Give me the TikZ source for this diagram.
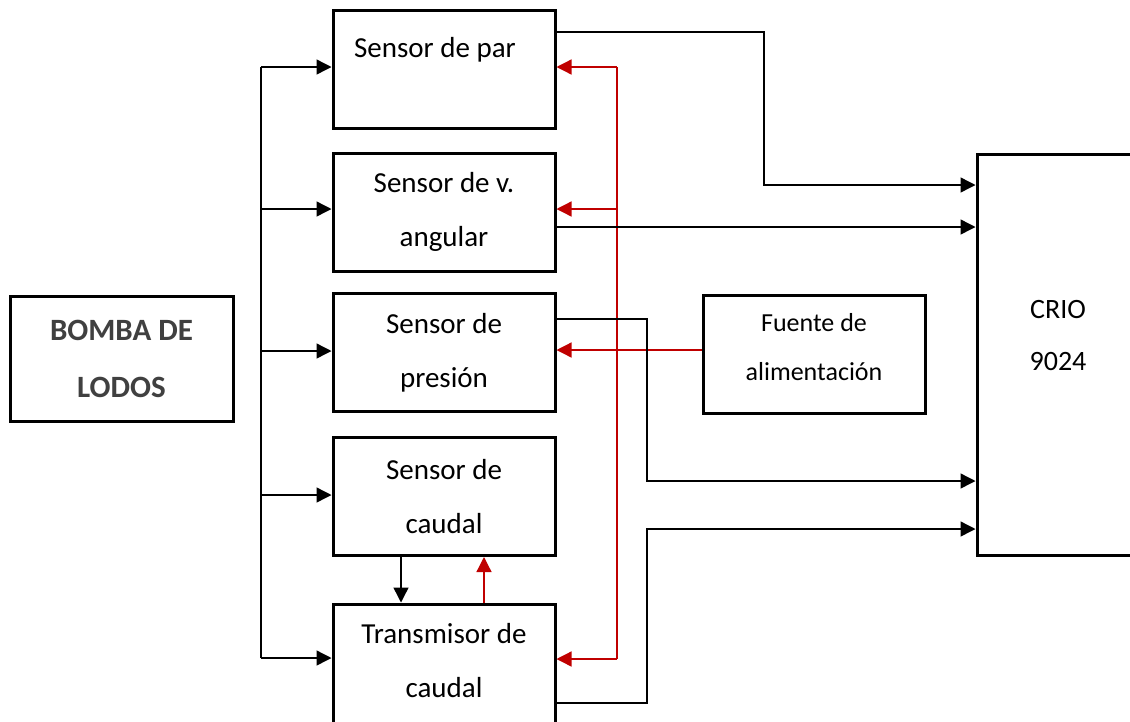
\documentclass[tikz,border=0pt]{standalone}
\usepackage{fontspec}
\setmainfont{Carlito}
\usepackage{tikz}
\usetikzlibrary{arrows.meta}
\definecolor{rojo}{HTML}{C00000}
\definecolor{gris}{HTML}{404040}

\begin{document}
\begin{tikzpicture}[x=1pt,y=-1pt,
		box/.style={draw,line width=3pt,minimum width=#1,minimum height=118pt,inner sep=0pt,align=center,font=\fontsize{29}{54}\selectfont},
		box/.default=222pt,
		txt/.style={inner sep=0pt,align=center,font=\fontsize{29}{54}\selectfont},
		arr/.style={line width=1.4pt,-{Triangle[length=15pt,width=15pt]}},
		rarr/.style={arr,draw=rojo,line width=1.3pt}]
		
		\useasboundingbox (0,0) rectangle (1130,721);
		\clip (0,0) rectangle (1130,721);
		
		%bloques
		\node[box=223pt,minimum height=125pt,text=gris,font=\fontsize{31}{57}\selectfont\bfseries] (bomba) at (121.5,358.5) {BOMBA DE\\LODOS};
		\node[box] (par) at (444,69) {};
		\node[txt] (parTxt) at (435,50) {Sensor de par};
		\node[box] (vel) at (444,212) {Sensor de v.\\angular};
		\node[box] (pres) at (444,352.5) {Sensor de\\presión};
		\node[box] (caud) at (444,496.5) {Sensor de\\caudal};
		\node[box,minimum height=124pt] (trans) at (444,666) {};
		\node[txt] (transTxt) at (444,661) {Transmisor de\\caudal};
		\node[box] (fuente) at (814,354) {};
		\node[txt,font=\fontsize{26}{49}\selectfont] (fuenteTxt) at (814,347.5) {Fuente de\\alimentación};
		\node[box=226pt,minimum height=401pt] (crio) at (1090,354.5) {};
		\node[txt,font=\fontsize{28}{52}\selectfont] (crioTxt) at (1058,336) {CRIO\\9024};
		
		%alimentacion de la bomba
		\draw[line width=1.4pt] (261,67) -- (261,658);
		\foreach \n/\y in {par/67,vel/209,pres/351,caud/495,trans/658}
		{
			\draw[arr] (261,\y) -- (\n.west |- 0,\y);
		}
		
		%alimentacion de los sensores
		\draw[draw=rojo,line width=1.3pt] (617,67) -- (617,659);
		\foreach \n/\y in {par/67,vel/209,trans/659}
		{
			\draw[rarr] (617,\y) -- (\n.east |- 0,\y);
		}
		\draw[rarr] (fuente.west |- 0,350) -- (pres.east |- 0,350);
		
		%caudal
		\draw[arr] (caud.south -| 401,0) -- (trans.north -| 401,0);
		\draw[rarr] (trans.north -| 484,0) -- (caud.south -| 484,0);
		
		%salidas al CRIO
		\draw[arr] (par.east |- 0,32) -| (764,185) -- (crio.west |- 0,185);
		\draw[arr] (vel.east |- 0,227) -- (crio.west |- 0,227);
		\draw[arr] (pres.east |- 0,319) -| (647,481) -- (crio.west |- 0,481);
		\draw[arr] (trans.east |- 0,703) -| (647,529) -- (crio.west |- 0,529);
		
\end{tikzpicture}
\end{document}
